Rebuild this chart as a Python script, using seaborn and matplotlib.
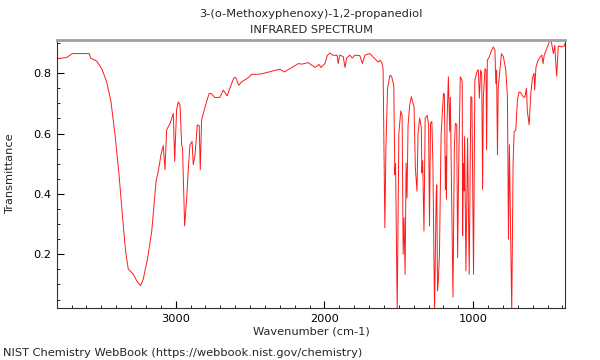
import numpy as np
import pandas as pd
import matplotlib
matplotlib.use('Agg')
import matplotlib.pyplot as plt
import seaborn as sns
from matplotlib.ticker import MultipleLocator

# Spectrum values (wavenumber in cm-1, transmittance)
wavenumber = [
    3798, 3733, 3695, 3581, 3572, 3531, 3497, 3464, 3435, 3408,
    3381, 3357, 3337, 3319, 3285, 3262, 3236, 3218, 3188, 3161,
    3132, 3117, 3099, 3084, 3072, 3061, 3038, 3016, 3007, 2994,
    2982, 2971, 2960, 2954, 2940, 2926, 2915, 2904, 2890, 2882,
    2870, 2855, 2842, 2835, 2826, 2808, 2793, 2775, 2759, 2737,
    2703, 2680, 2654, 2636, 2609, 2596, 2576, 2558, 2512, 2490,
    2433, 2389, 2344, 2299, 2270, 2232, 2175, 2153, 2109, 2063,
    2037, 2023, 1997, 1981, 1963, 1946, 1930, 1915, 1908, 1897,
    1874, 1862, 1851, 1829, 1813, 1796, 1762, 1745, 1728, 1695,
    1661, 1639, 1624, 1613, 1606, 1594, 1587, 1576, 1560, 1549,
    1534, 1527, 1522, 1511, 1500, 1487, 1478, 1471, 1465, 1458,
    1451, 1445, 1438, 1427, 1416, 1405, 1398, 1389, 1378, 1371,
    1360, 1349, 1345, 1340, 1331, 1323, 1309, 1300, 1294, 1287,
    1278, 1271, 1260, 1249, 1245, 1240, 1234, 1227, 1216, 1200,
    1194, 1187, 1185, 1180, 1176, 1167, 1158, 1154, 1136, 1127,
    1120, 1111, 1105, 1096, 1087, 1078, 1074, 1071, 1067, 1063,
    1058, 1049, 1038, 1027, 1016, 1009, 998, 989, 972, 965,
    959, 950, 943, 937, 932, 921, 914, 910, 905, 892,
    877, 865, 854, 848, 843, 837, 832, 810, 797, 781,
    770, 763, 757, 741, 732, 725, 714, 703, 692, 680,
    664, 653, 642, 636, 624, 613, 602, 591, 587, 578,
    564, 550, 539, 530, 523, 506, 490, 484, 475, 461,
    452, 439, 428, 405, 390, 381,
]
transmittance = [
    0.848, 0.852, 0.865, 0.865, 0.850, 0.840, 0.815, 0.771, 0.705, 0.596,
    0.464, 0.321, 0.211, 0.151, 0.134, 0.112, 0.096, 0.118, 0.189, 0.277,
    0.442, 0.475, 0.530, 0.560, 0.480, 0.612, 0.634, 0.667, 0.508, 0.680,
    0.705, 0.695, 0.563, 0.550, 0.294, 0.387, 0.486, 0.563, 0.574, 0.497,
    0.530, 0.629, 0.626, 0.480, 0.645, 0.678, 0.705, 0.733, 0.732, 0.719,
    0.720, 0.744, 0.725, 0.750, 0.785, 0.785, 0.760, 0.771, 0.785, 0.796,
    0.797, 0.802, 0.808, 0.813, 0.804, 0.815, 0.832, 0.830, 0.835, 0.819,
    0.829, 0.819, 0.832, 0.859, 0.867, 0.860, 0.859, 0.860, 0.832, 0.860,
    0.855, 0.819, 0.850, 0.860, 0.850, 0.860, 0.858, 0.832, 0.860, 0.865,
    0.848, 0.837, 0.843, 0.832, 0.815, 0.288, 0.550, 0.750, 0.793, 0.790,
    0.760, 0.464, 0.500, 0.010, 0.600, 0.675, 0.660, 0.200, 0.321, 0.134,
    0.502, 0.387, 0.629, 0.695, 0.722, 0.700, 0.690, 0.486, 0.409, 0.600,
    0.651, 0.620, 0.470, 0.510, 0.277, 0.651, 0.660, 0.629, 0.294, 0.634,
    0.640, 0.500, 0.010, 0.398, 0.430, 0.079, 0.118, 0.200, 0.596, 0.733,
    0.730, 0.415, 0.524, 0.382, 0.640, 0.788, 0.607, 0.720, 0.058, 0.552,
    0.634, 0.630, 0.189, 0.550, 0.788, 0.780, 0.770, 0.261, 0.500, 0.410,
    0.590, 0.145, 0.585, 0.134, 0.722, 0.720, 0.134, 0.777, 0.810, 0.810,
    0.717, 0.810, 0.800, 0.415, 0.720, 0.815, 0.810, 0.546, 0.843, 0.854,
    0.876, 0.887, 0.876, 0.766, 0.810, 0.530, 0.750, 0.865, 0.854, 0.810,
    0.722, 0.250, 0.563, 0.010, 0.500, 0.607, 0.610, 0.711, 0.738, 0.735,
    0.722, 0.720, 0.750, 0.673, 0.629, 0.733, 0.783, 0.800, 0.744, 0.821,
    0.843, 0.854, 0.860, 0.832, 0.860, 0.881, 0.900, 0.909, 0.905, 0.865,
    0.892, 0.790, 0.890, 0.887, 0.890, 0.900,
]

title_lines = ['3-(o-Methoxyphenoxy)-1,2-propanediol', 'INFRARED SPECTRUM']
x_label = 'Wavenumber (cm-1)'
y_label = 'Transmittance'
footer = 'NIST Chemistry WebBook (https://webbook.nist.gov/chemistry)'
x_ticks = [3000, 2000, 1000]
y_ticks = [0.2, 0.4, 0.6, 0.8]

df = pd.DataFrame({'wavenumber': wavenumber, 'transmittance': transmittance})

sns.set_style('white')
plt.rcParams['font.family'] = ['DejaVu Sans']
fs = 8.2

fig = plt.figure(figsize=(6, 3.6), dpi=100)
ax = fig.add_axes([57 / 600, 1 - 308 / 360, (565.3 - 57) / 600, (308 - 39.7) / 360])

sns.lineplot(data=df, x='wavenumber', y='transmittance', ax=ax,
             color='#ff1a1a', linewidth=0.7, estimator=None, sort=False)

ax.set_xlim(3798, 381)
ax.set_ylim(0.022, 0.911)
ax.set_xticks(x_ticks)
ax.set_yticks(y_ticks)
ax.set_yticklabels([f'{v:.1f}' for v in y_ticks])
ax.xaxis.set_minor_locator(MultipleLocator(100))
ax.yaxis.set_minor_locator(MultipleLocator(0.05))
ax.tick_params(which='both', direction='in', labelsize=fs, colors='black',
               top=False, right=False, left=True, bottom=True)
ax.tick_params(which='major', length=5, width=0.8, pad=4)
ax.tick_params(which='minor', length=2.5, width=0.6)
ax.set_xlabel('')
ax.set_ylabel('')

# frame: grey heavy line on top, thin dark lines elsewhere
for side in ['left', 'bottom', 'right']:
    ax.spines[side].set_color('#333333')
    ax.spines[side].set_linewidth(0.8)
ax.spines['top'].set_color('#a0a0a0')
ax.spines['top'].set_linewidth(2)

# texts
cx = (57 + 565.3) / 2 / 600
fig.text(cx, 1 - 14 / 360, title_lines[0], ha='center', va='center', fontsize=fs)
fig.text(cx, 1 - 30 / 360, title_lines[1], ha='center', va='center', fontsize=fs)
fig.text(cx, 1 - 332 / 360, x_label, ha='center', va='center', fontsize=fs)
fig.text(10 / 600, 1 - 174 / 360, y_label, ha='center', va='center',
         rotation=90, fontsize=fs)
fig.text(3 / 600, 1 - 353 / 360, footer, ha='left', va='center', fontsize=fs)

fig.savefig('out.png', dpi=100)
plt.close(fig)
